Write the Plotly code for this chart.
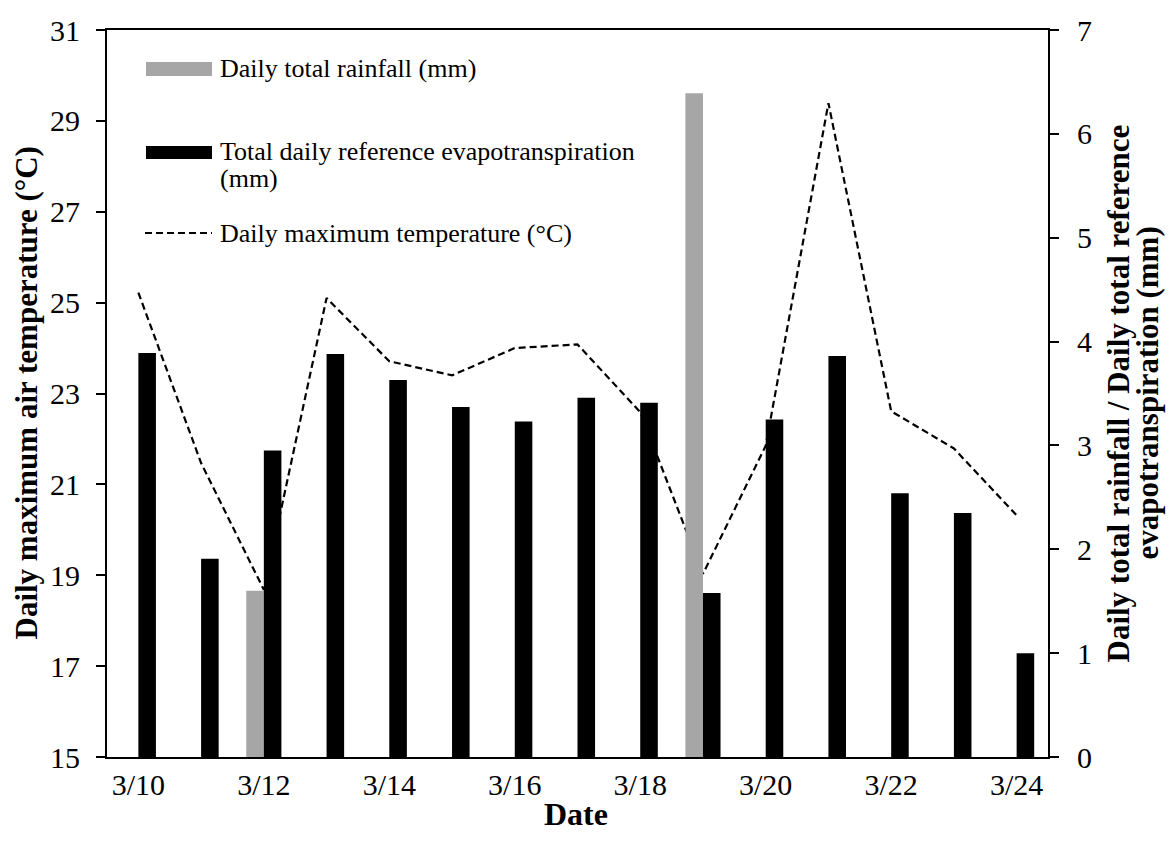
import plotly.graph_objects as go

dates = ["3/10", "3/11", "3/12", "3/13", "3/14", "3/15", "3/16", "3/17",
         "3/18", "3/19", "3/20", "3/21", "3/22", "3/23", "3/24"]
rainfall_mm = [0, 0, 1.60, 0, 0, 0, 0, 0, 0, 6.39, 0, 0, 0, 0, 0]
et0_mm = [3.89, 1.91, 2.95, 3.88, 3.63, 3.37, 3.23, 3.46, 3.41, 1.58, 3.25, 3.86, 2.54, 2.35, 1.00]
tmax_c = [25.22, 21.47, 18.68, 25.10, 23.71, 23.40, 24.00, 24.08, 22.59, 19.03, 21.85, 29.39, 22.61, 21.79, 20.32]
x_tick_labels = ["3/10", "3/12", "3/14", "3/16", "3/18", "3/20", "3/22", "3/24"]

FONT = "Liberation Serif"
GRAY = "#A6A6A6"

fig = go.Figure()
fig.add_trace(go.Bar(x=dates, y=rainfall_mm, yaxis="y2", width=0.28, offset=-0.28,
                     marker=dict(color=GRAY, line=dict(width=0)),
                     name="Daily total rainfall (mm)", showlegend=False))
fig.add_trace(go.Bar(x=dates, y=et0_mm, yaxis="y2", width=0.28, offset=0,
                     marker=dict(color="#000000", line=dict(width=0)),
                     name="Total daily reference evapotranspiration (mm)", showlegend=False))
fig.add_trace(go.Scatter(x=dates, y=tmax_c, mode="lines", yaxis="y",
                         line=dict(color="#000000", width=2.2, dash="7px,4px"),
                         name="Daily maximum temperature (°C)", showlegend=False))

L, R, T, B = 107, 123, 30, 92
W, H = 1171, 849
pw, ph = W - L - R, H - T - B

def px(x):
    return (x - L) / pw

def py(y):
    return (H - B - y) / ph

# manual legend
shapes = [
    dict(type="rect", xref="paper", yref="paper", x0=px(146), x1=px(212), y0=py(76), y1=py(62),
         fillcolor=GRAY, line=dict(width=0)),
    dict(type="rect", xref="paper", yref="paper", x0=px(146), x1=px(212), y0=py(159), y1=py(146),
         fillcolor="#000000", line=dict(width=0)),
    dict(type="line", xref="paper", yref="paper", x0=px(145), x1=px(212), y0=py(233), y1=py(233),
         line=dict(color="#000000", width=2.2, dash="7px,4px")),
]
leg_font = dict(family=FONT, size=26, color="#000000")
annotations = [
    dict(text="Daily total rainfall (mm)", x=px(218), y=py(69), xref="paper", yref="paper",
         xanchor="left", yanchor="middle", showarrow=False, font=leg_font),
    dict(text="Total daily reference evapotranspiration", x=px(218), y=py(151), xref="paper", yref="paper",
         xanchor="left", yanchor="middle", showarrow=False, font=leg_font),
    dict(text="(mm)", x=px(218), y=py(178), xref="paper", yref="paper",
         xanchor="left", yanchor="middle", showarrow=False, font=leg_font),
    dict(text="Daily maximum temperature (°C)", x=px(218), y=py(233), xref="paper", yref="paper",
         xanchor="left", yanchor="middle", showarrow=False, font=leg_font),
]
title_font = dict(family=FONT, size=31, color="#000000")
annotations += [
    dict(text="<b>Daily maximum air temperature (°C)</b>", x=px(26), y=0.5, xref="paper", yref="paper",
         xanchor="center", yanchor="middle", textangle=-90, showarrow=False, font=title_font),
    dict(text="<b>Daily total rainfall / Daily total reference</b>", x=px(1118), y=0.5, xref="paper",
         yref="paper", xanchor="center", yanchor="middle", textangle=-90, showarrow=False, font=title_font),
    dict(text="<b>evapotranspiration (mm)</b>", x=px(1147), y=0.5, xref="paper",
         yref="paper", xanchor="center", yanchor="middle", textangle=-90, showarrow=False, font=title_font),
    dict(text="<b>Date</b>", x=px(576), y=py(814), xref="paper", yref="paper",
         xanchor="center", yanchor="middle", showarrow=False,
         font=dict(family=FONT, size=32, color="#000000")),
]

tick_font = dict(family=FONT, size=30, color="#000000")
fig.update_layout(
    width=W, height=H,
    margin=dict(l=L, r=R, t=T, b=B),
    paper_bgcolor="white", plot_bgcolor="white",
    showlegend=False,
    xaxis=dict(type="category", categoryorder="array", categoryarray=dates,
               range=[-0.5, 14.5], tickmode="array", tickvals=x_tick_labels, ticktext=x_tick_labels,
               ticks="", ticklabelstandoff=0, showline=True, linecolor="#000000", linewidth=2, mirror=True,
               showgrid=False, zeroline=False, tickfont=tick_font),
    yaxis=dict(range=[15, 31], dtick=2, tick0=15, ticks="outside", ticklen=9, tickwidth=1.5,
               ticklabelstandoff=10,
               tickcolor="#000000", showline=True, linecolor="#000000", linewidth=2,
               showgrid=False, zeroline=False, tickfont=tick_font),
    yaxis2=dict(range=[0, 7], dtick=1, tick0=0, overlaying="y", side="right", ticks="outside",
                ticklen=9, tickwidth=1.5, ticklabelstandoff=12,
                tickcolor="#000000", showline=True, linecolor="#000000",
                linewidth=2, showgrid=False, zeroline=False, tickfont=tick_font),
    shapes=shapes,
    annotations=annotations,
)

fig.write_html("out.html")
